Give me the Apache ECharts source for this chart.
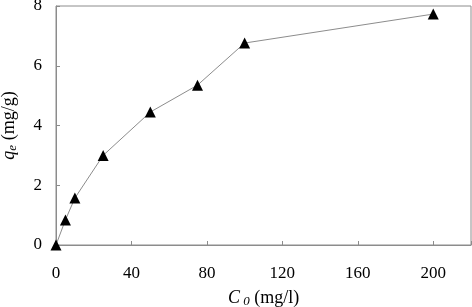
<!DOCTYPE html>
<html>
<head>
<meta charset="utf-8">
<script src="https://cdn.jsdelivr.net/npm/echarts@6/dist/echarts.min.js"></script>
<style>
  html, body { margin: 0; padding: 0; background: #fff; }
  #chart { width: 472px; height: 307px; }
</style>
</head>
<body>
<div id="chart"></div>
<script>
// initial concentration C0 (mg/l) and uptake qe (mg/g)
const c0Values = [0, 5, 10, 25, 50, 75, 100, 200]
const qeValues = [0, 0.84, 1.57, 3.0, 4.45, 5.35, 6.76, 7.73]
const xTicks = [0, 40, 80, 120, 160, 200]
const yTicks = [0, 2, 4, 6, 8]

const serif = '"Liberation Serif", "DejaVu Serif", serif'
const axisGray = '#8c8c8c'
const fs = 17
const nameFs = 18

const nameRich = {
  i: { fontFamily: serif, fontStyle: 'italic', fontSize: nameFs, color: '#000' },
  s: { fontFamily: serif, fontStyle: 'italic', fontSize: 13, color: '#000', verticalAlign: 'bottom', padding: [7, 0, 0, 0] }
}

const chart = echarts.init(document.getElementById('chart'))
const option = {
  animation: false,
  textStyle: { fontFamily: serif },
  grid: {
    left: 56,
    right: 1,
    top: 6,
    bottom: 62,
    outerBoundsMode: 'none',
    containLabel: false,
    show: true,
    borderColor: axisGray,
    borderWidth: 1
  },
  xAxis: {
    type: 'value',
    min: 0,
    max: 220,
    interval: 40,
    name: '{i|C}{s| 0} (mg/l)',
    nameLocation: 'middle',
    nameGap: 43,
    nameTextStyle: { rich: nameRich, fontFamily: serif, fontSize: nameFs, color: '#000' },
    axisLine: { lineStyle: { color: axisGray } },
    axisTick: { inside: true, length: 4, lineStyle: { color: axisGray } },
    axisLabel: {
      margin: 20,
      fontSize: fs,
      color: '#000',
      fontFamily: serif,
      formatter: v => (xTicks.indexOf(v) >= 0 ? String(v) : '')
    },
    splitLine: { show: false }
  },
  yAxis: {
    type: 'value',
    min: 0,
    max: 8,
    interval: 2,
    name: '{i|q}{s|e} (mg/g)',
    nameLocation: 'middle',
    nameGap: 37,
    nameTextStyle: { rich: nameRich, fontFamily: serif, fontSize: nameFs, color: '#000' },
    axisLine: { show: true, lineStyle: { color: axisGray } },
    axisTick: { show: true, inside: true, length: 4, lineStyle: { color: axisGray } },
    axisLabel: {
      margin: 14,
      fontSize: fs,
      color: '#000',
      fontFamily: serif,
      formatter: v => (yTicks.indexOf(v) >= 0 ? String(v) : '')
    },
    splitLine: { show: false }
  },
  series: [
    {
      type: 'line',
      data: c0Values.map((c, i) => [c, qeValues[i]]),
      symbol: 'triangle',
      symbolSize: 11,
      showAllSymbol: true,
      itemStyle: { color: '#000' },
      lineStyle: { color: '#8c8c8c', width: 1 },
      z: 3
    }
  ]
}
chart.setOption(option)
</script>
</body>
</html>
